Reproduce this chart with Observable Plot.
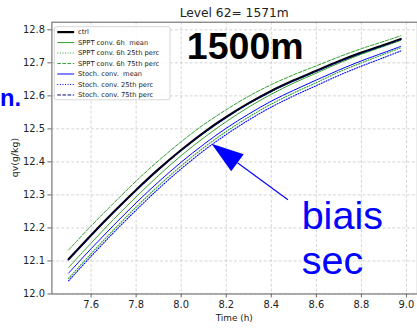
<!DOCTYPE html>
<html><head><meta charset="utf-8">
<script src="https://cdn.jsdelivr.net/npm/d3@7"></script>
<script src="https://cdn.jsdelivr.net/npm/@observablehq/plot@0.6"></script>
<style>
html,body{margin:0;padding:0;background:#fff;overflow:hidden;}
#c{width:417px;height:329px;overflow:hidden;position:relative;}
#c svg{display:block;}
</style></head><body><div id="c"></div>
<script>
// ---- data ----
const times      = [7.5, 7.6, 7.7, 7.8, 7.9, 8.0, 8.1, 8.2, 8.3, 8.4, 8.5, 8.6, 8.7, 8.8, 8.9, 8.975];
const ctrl       = [12.105,12.178,12.248,12.315,12.378,12.436,12.489,12.536,12.578,12.615,12.647,12.676,12.705,12.731,12.754,12.772];
const spptMean   = [12.080,12.154,12.226,12.294,12.359,12.419,12.473,12.522,12.566,12.605,12.639,12.669,12.699,12.726,12.750,12.768];
const sppt25     = [12.047,12.122,12.194,12.263,12.328,12.388,12.443,12.492,12.536,12.575,12.609,12.640,12.672,12.700,12.726,12.746];
const sppt75     = [12.133,12.206,12.275,12.342,12.404,12.461,12.513,12.558,12.599,12.634,12.664,12.691,12.718,12.743,12.765,12.782];
const stochMean  = [12.063,12.137,12.208,12.276,12.340,12.399,12.453,12.502,12.545,12.584,12.617,12.648,12.678,12.706,12.731,12.750];
const stoch25    = [12.040,12.114,12.186,12.254,12.319,12.379,12.434,12.483,12.527,12.566,12.600,12.631,12.662,12.690,12.716,12.736];
const stoch75    = [12.103,12.176,12.246,12.313,12.376,12.434,12.487,12.534,12.576,12.613,12.645,12.674,12.703,12.729,12.752,12.770];
const seriesNames = ["ctrl","SPPT conv. 6h  mean","SPPT conv. 6h 25th perc","SPPT conv. 6h 75th perc",
                     "Stoch. conv.  mean","Stoch. conv. 25th perc","Stoch. conv. 75th perc"];
const xTicks = [7.6, 7.8, 8.0, 8.2, 8.4, 8.6, 8.8, 9.0];
const yTicks = [12.0, 12.1, 12.2, 12.3, 12.4, 12.5, 12.6, 12.7, 12.8];
const titleText = "Level 62= 1571m";
const xLabel = "Time (h)";
const yLabel = "qv(g/kg)";
// annotations, in data coordinates
const noteTexts = ["1500m", "biais", "sec", "n."];
const noteT     = [8.027, 8.537, 8.537, 7.292];
const noteV     = [12.7096, 12.1946, 12.060, 12.569];
const arrowFrom = [8.476, 12.284];
const arrowTo   = [8.137, 12.4536];

// ---- styles ----
const GREEN = "#2e9e2e", BLUE = "#0000ff", NAVY = "#000080";
const DOT = "1,1.6", DASH = "3.6,1.6";
const seriesValues = [ctrl, spptMean, sppt25, sppt75, stochMean, stoch25, stoch75];
const seriesStyle = [
  {stroke:"#000", width:2.2, dash:null},
  {stroke:GREEN, width:1, dash:null},
  {stroke:GREEN, width:1.1, dash:DOT},
  {stroke:GREEN, width:1, dash:DASH},
  {stroke:BLUE, width:1, dash:null},
  {stroke:BLUE, width:1.1, dash:DOT},
  {stroke:NAVY, width:1, dash:DASH}
];

const rows = [];
seriesNames.forEach((name, k) => times.forEach((t, i) => rows.push({series: name, k, t, v: seriesValues[k][i]})));

const lineMarks = seriesNames.map((name, k) => Plot.line(rows.filter(r => r.k === k), {
  x: "t", y: "v", stroke: seriesStyle[k].stroke, strokeWidth: seriesStyle[k].width,
  strokeDasharray: seriesStyle[k].dash || undefined, curve: "catmull-rom"
}));

function overlay(index, scales, values, dims) {
  const {x, y} = scales;
  const g = d3.create("svg:g").attr("text-anchor", "start");
  const ml = dims.marginLeft, mt = dims.marginTop, mr = dims.marginRight, mb = dims.marginBottom;
  const W = dims.width, H = dims.height;
  const cx = ml + (W - ml - mr) / 2;
  const cy = mt + (H - mt - mb) / 2;
  // title
  g.append("text").attr("x", cx).attr("y", mt - 5).attr("text-anchor", "middle")
    .attr("font-size", 12.4).attr("fill", "#222").text(titleText);
  // axis labels
  g.append("text").attr("x", cx).attr("y", H - 4).attr("text-anchor", "middle")
    .attr("font-size", 9).attr("fill", "#222").text(xLabel);
  g.append("text").attr("transform", `translate(18,${cy}) rotate(-90)`).attr("text-anchor", "middle")
    .attr("font-size", 9.5).attr("fill", "#222").text(yLabel);
  // legend
  const lx = ml + 3, ly = mt + 5;
  g.append("rect").attr("x", lx).attr("y", ly).attr("width", 117).attr("height", 74)
    .attr("rx", 2).attr("fill", "#fff").attr("fill-opacity", 0.85).attr("stroke", "#ccc").attr("stroke-width", 0.8);
  seriesNames.forEach((name, k) => {
    const yy = ly + 5.5 + k * 10.6;
    const s = seriesStyle[k];
    g.append("line").attr("x1", lx + 3).attr("x2", lx + 20).attr("y1", yy).attr("y2", yy)
      .attr("stroke", s.stroke).attr("stroke-width", s.width).attr("stroke-dasharray", s.dash);
    g.append("text").attr("x", lx + 24).attr("y", yy + 2.4).attr("font-size", 6.8).attr("text-anchor", "start")
      .attr("fill", "#222").style("white-space", "pre").attr("xml:space", "preserve").text(name);
  });
  // big annotation texts
  const noteStyle = [
    {size: 38, weight: "bold", fill: "#000"},
    {size: 40, weight: "normal", fill: BLUE},
    {size: 40, weight: "normal", fill: BLUE},
    {size: 24, weight: "bold", fill: BLUE}
  ];
  noteTexts.forEach((txt, i) => {
    const st = noteStyle[i];
    g.append("text").attr("x", x(noteT[i])).attr("y", y(noteV[i]))
      .attr("text-anchor", i === 3 ? "end" : "start")
      .attr("font-family", "Liberation Sans, Arial, sans-serif")
      .attr("font-size", st.size).attr("font-weight", st.weight).attr("fill", st.fill).text(txt);
  });
  // arrow with filled head
  const px = x(arrowTo[0]), py = y(arrowTo[1]);
  const qx = x(arrowFrom[0]), qy = y(arrowFrom[1]);
  const L = Math.hypot(px - qx, py - qy), ux = (px - qx) / L, uy = (py - qy) / L;
  const hl = 32.5, hw = 10.7;
  const bx = px - ux * hl, by = py - uy * hl;
  g.append("line").attr("x1", qx).attr("y1", qy).attr("x2", bx).attr("y2", by)
    .attr("stroke", BLUE).attr("stroke-width", 1.1);
  g.append("path").attr("d", `M${px},${py}L${bx - uy * hw},${by + ux * hw}L${bx + uy * hw},${by - ux * hw}Z`)
    .attr("fill", BLUE);
  return g.node();
}

const chart = Plot.plot({
  width: 422, height: 329,
  marginLeft: 52, marginRight: 0, marginTop: 22, marginBottom: 32,
  style: {fontFamily: "DejaVu Sans", fontSize: "10px", color: "#222", background: "#fff", overflow: "visible"},
  x: {domain: [7.426, 9.049]},
  y: {domain: [12.0, 12.823]},
  marks: [
    Plot.gridX(xTicks, {stroke: "#c8c8c8", strokeOpacity: 1, strokeDasharray: "3,2", strokeWidth: 0.8}),
    Plot.gridY(yTicks, {stroke: "#c8c8c8", strokeOpacity: 1, strokeDasharray: "3,2", strokeWidth: 0.8}),
    ...lineMarks,
    Plot.frame({stroke: "#808080", strokeWidth: 1.3}),
    Plot.axisX(xTicks, {tickFormat: d => d.toFixed(1), tickSize: 4, tickPadding: 3, stroke: "#666", fontSize: 10, label: null}),
    Plot.axisY(yTicks, {tickFormat: d => d.toFixed(1), tickSize: 4, tickPadding: 3, stroke: "#666", fontSize: 10, label: null}),
    overlay
  ]
});
document.getElementById("c").appendChild(chart);
</script>
</body></html>
